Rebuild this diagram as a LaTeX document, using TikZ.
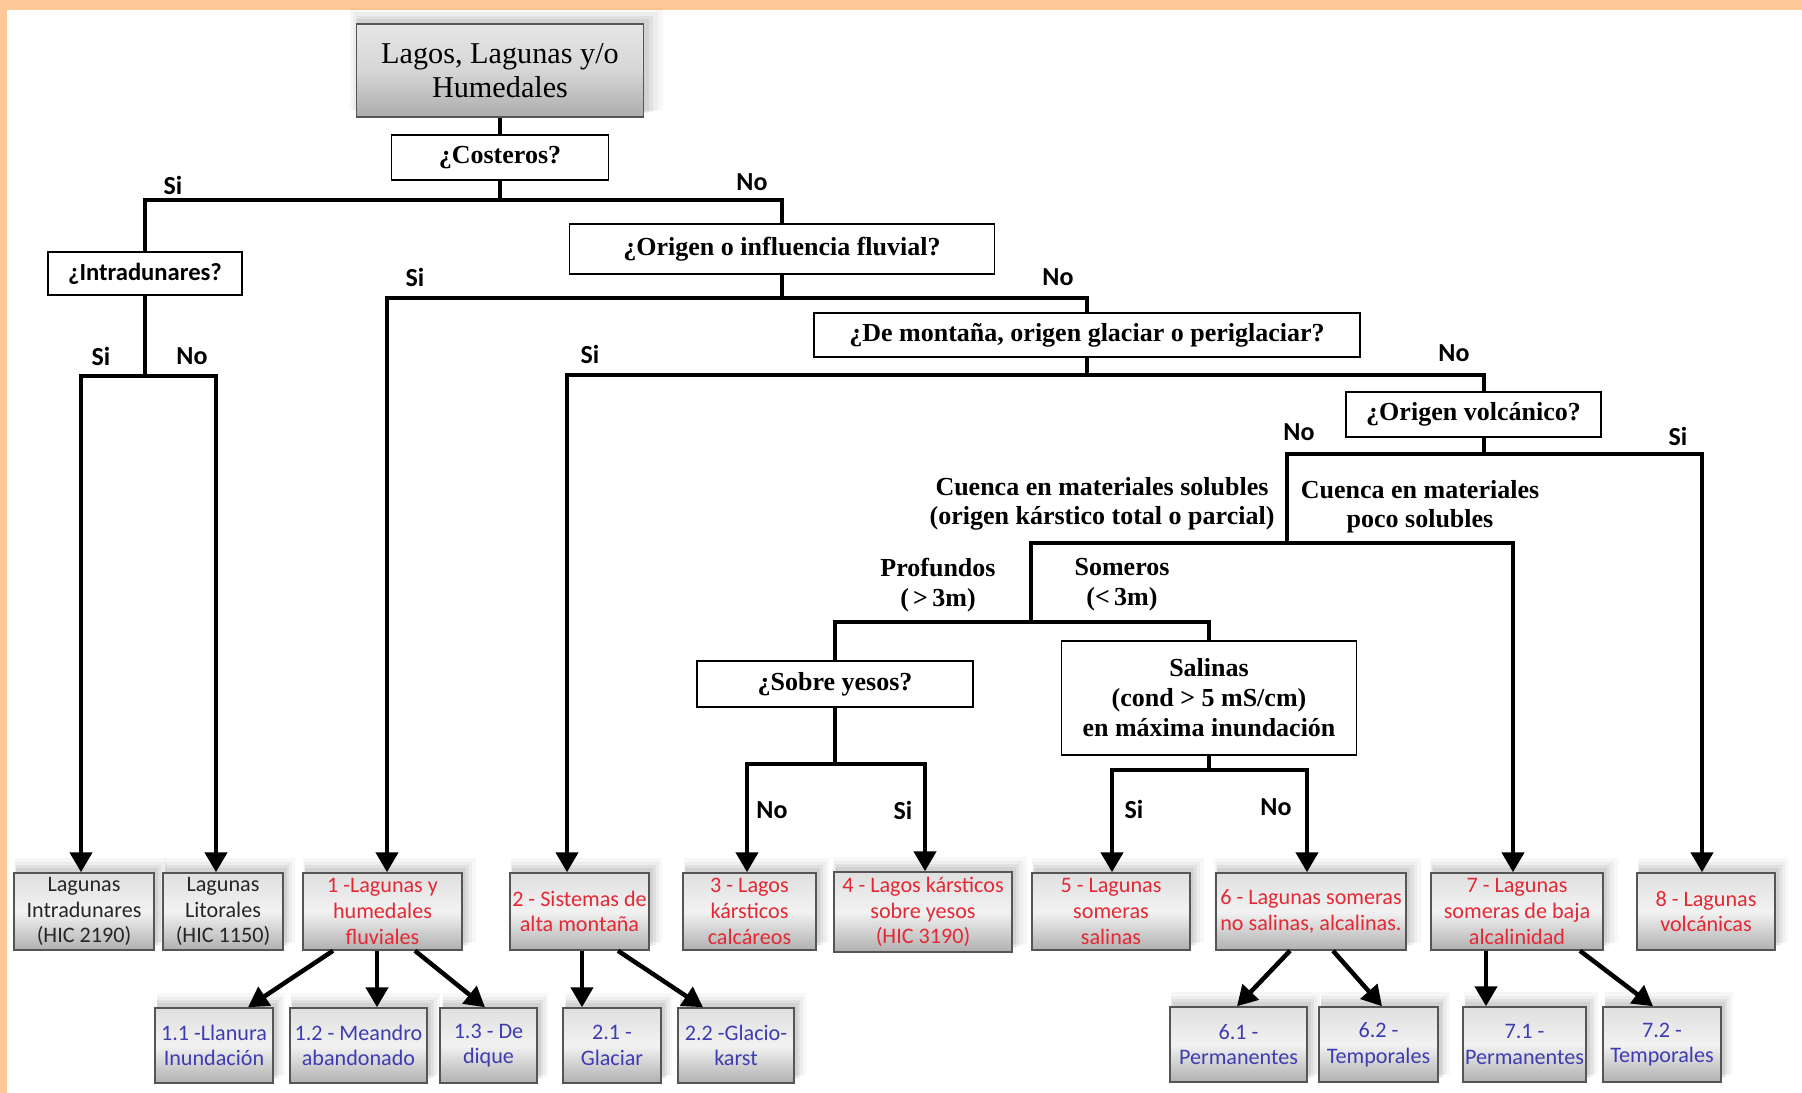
\documentclass[tikz,border=0pt]{standalone}
\usepackage{fontspec}
\setmainfont{Liberation Serif}
\newfontfamily\calib{Carlito}
\usetikzlibrary{arrows.meta,shadows}

\definecolor{naranja}{RGB}{255,200,150}
\definecolor{rojo}{RGB}{228,40,52}
\definecolor{azul}{RGB}{62,60,178}
\definecolor{borde}{RGB}{85,85,85}

\newcommand\fraiz{\fontsize{8.6}{9.7}\selectfont}
\newcommand\fpreg{\fontsize{7.4}{8.3}\selectfont\bfseries}
\newcommand\fsino{\calib\fontsize{7.4}{8.4}\selectfont\bfseries}
\newcommand\fhoja{\calib\fontsize{6.3}{7.3}\selectfont}

\tikzset{
  link/.style={line width=0.45mm},
  arr/.style={link, -{Triangle[length=2mm,width=2.2mm]}},
  dosarr/.style={link, {Triangle[length=2mm,width=2.2mm]}-{Triangle[length=2mm,width=2.2mm]}},
  sombra/.style={
    general shadow={fill=black, opacity=0.03, shadow xshift=1.8pt, shadow yshift=3pt, shadow scale=1.09},
    general shadow={fill=black, opacity=0.04, shadow xshift=1.5pt, shadow yshift=2.4pt, shadow scale=1.06},
    general shadow={fill=black, opacity=0.05, shadow xshift=1.2pt, shadow yshift=1.8pt, shadow scale=1.035},
    general shadow={fill=black, opacity=0.06, shadow xshift=0.8pt, shadow yshift=1.2pt, shadow scale=1.015}},
  pregunta/.style={draw, line width=0.18mm, fill=white, inner sep=0pt, align=center, font=\fpreg},
  caja/.style={draw=borde, line width=0.15mm, sombra, top color=gray!25, bottom color=gray!62,
    middle color=gray!10, inner sep=0pt, align=center, font=\fhoja},
  hoja/.style={caja, minimum height=7.7mm},
  sub/.style={caja, minimum height=7.5mm, text=azul},
  sino/.style={font=\fsino, inner sep=0pt},
  etiq/.style={font=\fpreg, align=center, inner sep=0pt}
}

\begin{document}
\begin{tikzpicture}[x=0.1mm, y=-0.1mm]

\def\W{1802}
\def\H{1093}
\path [use as bounding box] (0,0) rectangle (\W,\H);

% FONDO
\fill [white] (0,0) rectangle (\W,\H);
\fill [naranja] (0,0) rectangle (\W,10);
\fill [naranja] (0,0) rectangle (7,\H);

% PREGUNTAS
\node [caja, font=\fraiz, minimum width=28.7mm, minimum height=9.3mm, top color=gray!20, bottom color=gray!65, middle color=gray!32]
	(raiz) at (500,70.5) {Lagos, Lagunas y/o\\Humedales};
\node [pregunta, minimum width=21.7mm, minimum height=4.5mm] (costeros) at (500,157.5) {¿Costeros?};
\node [pregunta, font=\fsino\fontsize{7}{8}\selectfont, minimum width=19.4mm, minimum height=4.3mm]
	(intradunares) at (145,273.5) {¿Intradunares?};
\node [pregunta, minimum width=42.5mm, minimum height=5mm] (fluvial) at (782,249) {¿Origen o influencia fluvial?};
\node [pregunta, minimum width=54.6mm, minimum height=4.4mm] (montana) at (1087,335) {¿De montaña, origen glaciar o periglaciar?};
\node [pregunta, minimum width=25.5mm, minimum height=4.5mm] (volcanico) at (1473.5,414.5) {¿Origen volcánico?};
\node [pregunta, minimum width=27.6mm, minimum height=4.6mm] (yesos) at (835,684) {¿Sobre yesos?};
\node [pregunta, font=\fontsize{7.4}{8.5}\selectfont\bfseries, minimum width=29.5mm, minimum height=11.4mm]
	(salinas) at (1209,698) {Salinas\\(cond > 5 mS/cm)\\en máxima inundación};

% TIPOS
\node [hoja, minimum width=14mm, text=black!85] (lagIntra) at (84,911.5) {Lagunas\\Intradunares\\(HIC 2190)};
\node [hoja, minimum width=12mm, text=black!85] (lagLitor) at (223,911.5) {Lagunas\\Litorales\\(HIC 1150)};
\node [hoja, minimum width=15.9mm, text=rojo] (tipo1) at (382.5,911.5) {1 -Lagunas y\\humedales\\fluviales};
\node [hoja, minimum width=13.9mm, text=rojo] (tipo2) at (579.5,911.5) {2 - Sistemas de\\alta montaña};
\node [hoja, minimum width=13.3mm, text=rojo] (tipo3) at (749.5,911.5) {3 - Lagos\\kársticos\\calcáreos};
\node [hoja, minimum width=17.8mm, minimum height=8mm, text=rojo] (tipo4) at (923,912) {4 - Lagos kársticos\\sobre yesos\\(HIC 3190)};
\node [hoja, minimum width=15.8mm, text=rojo] (tipo5) at (1111,911.5) {5 - Lagunas\\someras\\salinas};
\node [hoja, minimum width=19mm, text=rojo] (tipo6) at (1311,911.5) {6 - Lagunas someras\\no salinas, alcalinas.};
\node [hoja, minimum width=17.2mm, text=rojo] (tipo7) at (1517,911.5) {7 - Lagunas\\someras de baja\\alcalinidad};
\node [hoja, minimum width=13.8mm, text=rojo] (tipo8) at (1706,911.5) {8 - Lagunas\\volcánicas};

% SUBTIPOS
\node [sub, minimum width=11.8mm] (tipo11) at (214,1045.5) {1.1 -Llanura\\Inundación};
\node [sub, minimum width=13.7mm] (tipo12) at (358.5,1045.5) {1.2 - Meandro\\abandonado};
\node [sub, minimum width=9.7mm] (tipo13) at (488.5,1045.5) {1.3 - De\\dique};
\node [sub, minimum width=9.8mm] (tipo21) at (612,1045.5) {2.1 -\\Glaciar};
\node [sub, minimum width=11.6mm] (tipo22) at (736,1045.5) {2.2 -Glacio-\\karst};
\node [sub, minimum width=13.7mm] (tipo61) at (1238.5,1044.5) {6.1 -\\Permanentes};
\node [sub, minimum width=11.9mm] (tipo62) at (1378.5,1044.5) {6.2 -\\Temporales};
\node [sub, minimum width=12.3mm] (tipo71) at (1524.5,1044.5) {7.1 -\\Permanentes};
\node [sub, minimum width=11.8mm] (tipo72) at (1662,1044.5) {7.2 -\\Temporales};

% CRITERIOS
\node [etiq, font=\fontsize{7.4}{8.2}\selectfont\bfseries] (solubles) at (1102,504)
	{Cuenca en materiales solubles\\(origen kárstico total o parcial)};
\node [etiq, font=\fontsize{7.4}{8.2}\selectfont\bfseries] (pocoSol) at (1420,507)
	{Cuenca en materiales\\poco solubles};
\node [etiq, font=\fontsize{7.4}{8.6}\selectfont\bfseries] (profundos) at (938,585) {Profundos\\(\,>\,3m)};
\node [etiq, font=\fontsize{7.4}{8.6}\selectfont\bfseries] (someros) at (1122,585) {Someros\\(<\,3m)};

% RAMAS
\coordinate (j1) at (500,200);
\coordinate (j2) at (782,298);
\coordinate (j3) at (1087,375);
\coordinate (j4) at (145,376);
\coordinate (j5) at (1484,454);
\coordinate (j6) at (1287,543);
\coordinate (j7) at (1031,622);
\coordinate (j8) at (835,764);
\coordinate (j9) at (1209,770);

\draw [link] (raiz) -- (costeros);
\draw [link] (costeros) -- (j1);
\draw [link] (intradunares.north) |- (j1) -| (fluvial.north);
\draw [link] (fluvial) -- (j2);
\draw [arr] (montana.north) |- (j2) -| (tipo1.north -| 387,0);
\draw [link] (montana) -- (j3);
\draw [arr] (volcanico.north -| j5) |- (j3) -| (tipo2.north -| 567,0);
\draw [link] (intradunares) -- (j4);
\draw [dosarr] (lagIntra.north -| 81,0) |- (j4) -| (lagLitor.north -| 216,0);
\draw [link] (volcanico.south -| j5) -- (j5);
\draw [arr] (j6) |- (j5) -| (tipo8.north -| 1702,0);
\draw [arr] (j7) |- (j6) -| (tipo7.north -| 1513,0);
\draw [link] (yesos.north -| j8) |- (j7) -| (salinas.north -| j9);
\draw [link] (yesos.south -| j8) -- (j8);
\draw [dosarr] (tipo3.north -| 747,0) |- (j8) -| (tipo4.north -| 925,0);
\draw [link] (salinas.south -| j9) -- (j9);
\draw [dosarr] (tipo5.north -| 1112,0) |- (j9) -| (tipo6.north -| 1307,0);

% SUBRAMAS
\draw [arr] (tipo1.south -| 333,0) -- (tipo11.north -| 248,0);
\draw [arr] (tipo1.south -| 377,0) -- (tipo12.north -| 377,0);
\draw [arr] (tipo1.south -| 415,0) -- (tipo13.north -| 485,0);
\draw [arr] (tipo2.south -| 582,0) -- (tipo21.north -| 582,0);
\draw [arr] (tipo2.south -| 618,0) -- (tipo22.north -| 703,0);
\draw [arr] (tipo6.south -| 1290,0) -- (tipo61.north -| 1237,0);
\draw [arr] (tipo6.south -| 1333,0) -- (tipo62.north -| 1382,0);
\draw [arr] (tipo7.south -| 1486,0) -- (tipo71.north -| 1486,0);
\draw [arr] (tipo7.south -| 1580,0) -- (tipo72.north -| 1653,0);

% SI / NO
\node [sino] (si1) at (173,185) {Si};
\node [sino] (no1) at (752,182) {No};
\node [sino] (si2) at (415,277) {Si};
\node [sino] (no2) at (1058,277) {No};
\node [sino] (si3) at (101,356) {Si};
\node [sino] (no3) at (192,356) {No};
\node [sino] (si4) at (590,354) {Si};
\node [sino] (no4) at (1454,353) {No};
\node [sino] (no5) at (1299,432) {No};
\node [sino] (si5) at (1678,436) {Si};
\node [sino] (no6) at (772,810) {No};
\node [sino] (si6) at (903,810) {Si};
\node [sino] (si7) at (1134,809) {Si};
\node [sino] (no7) at (1276,807) {No};

\end{tikzpicture}
\end{document}
